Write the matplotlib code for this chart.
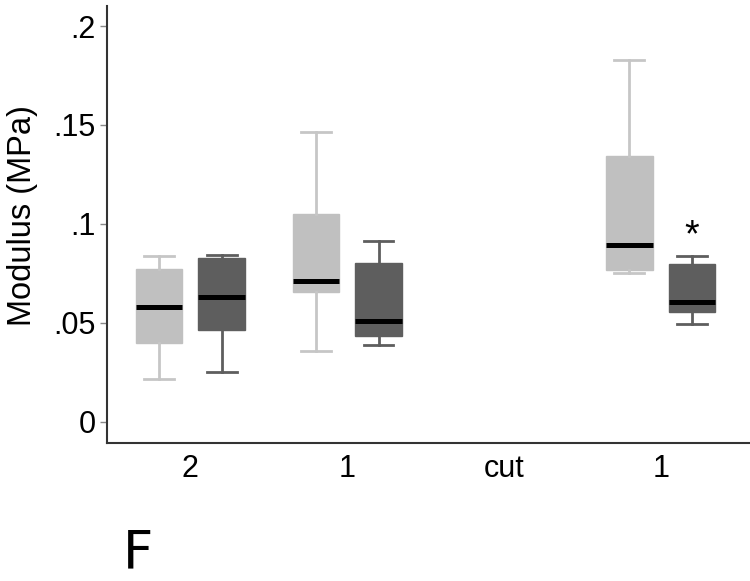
"""
Modulus box plot, two conditions per group
"""
import matplotlib.pyplot as plt

plt.rcParams['font.family'] = ['Liberation Sans', 'DejaVu Sans']

# 组位置和标签
positions = [1, 2, 4]
tick_pos = [1, 2, 3, 4]
tick_labels = ["2", "1", "cut", "1"]

# light series: whislo, q1, med, q3, whishi
light_lo = [0.0216, 0.0356, 0.0753]
light_q1 = [0.0396, 0.0657, 0.0766]
light_med = [0.058, 0.0712, 0.0894]
light_q3 = [0.077, 0.1052, 0.1344]
light_hi = [0.084, 0.1464, 0.183]

# dark series
dark_lo = [0.0253, 0.0386, 0.0495]
dark_q1 = [0.0463, 0.0434, 0.0556]
dark_med = [0.063, 0.0509, 0.0606]
dark_q3 = [0.083, 0.080, 0.0795]
dark_hi = [0.0845, 0.0913, 0.0838]

yticks = [0, 0.05, 0.1, 0.15, 0.2]
ytick_labels = ["0", ".05", ".1", ".15", ".2"]


def make_stats(lo, q1, med, q3, hi):
    return [dict(whislo=a, q1=b, med=c, q3=d, whishi=e, fliers=[])
            for a, b, c, d, e in zip(lo, q1, med, q3, hi)]


fig = plt.figure(figsize=(7.5, 5.81), dpi=100)
ax = fig.add_axes([0.1427, 0.238, 0.8573, 0.7516])

off = 0.2
w = 0.297
for stats, color, wcolor, shift in [
        (make_stats(light_lo, light_q1, light_med, light_q3, light_hi), "#c0c0c0", "#c6c6c6", -off),
        (make_stats(dark_lo, dark_q1, dark_med, dark_q3, dark_hi), "#5e5e5e", "#5e5e5e", off)]:
    ax.bxp(stats, positions=[p + shift for p in positions], widths=w,
           capwidths=0.19, patch_artist=True, showfliers=False,
           boxprops=dict(facecolor=color, edgecolor=color, linewidth=1),
           whiskerprops=dict(color=wcolor, linewidth=2),
           capprops=dict(color=wcolor, linewidth=2),
           medianprops=dict(color="black", linewidth=3.6, solid_capstyle="butt"))

# 显著性标记
ax.annotate("*", xy=(4 + off, dark_hi[2]), xytext=(0, 1), textcoords="offset points",
            ha="center", va="bottom", fontsize=27)

ax.set_xlim(0.468, 4.57)
ax.set_ylim(-0.0106, 0.2101)
ax.set_xticks(tick_pos)
ax.set_xticklabels(tick_labels, fontsize=22)
ax.set_yticks(yticks)
ax.set_yticklabels(ytick_labels, fontsize=22)
ax.tick_params(axis="x", length=0, pad=8)
ax.tick_params(axis="y", length=5, width=1, color="#888888", pad=3)
ax.set_ylabel("Modulus (MPa)", fontsize=23.5)
ax.yaxis.set_label_coords(-0.108, 0.52)

for s in ["top", "right"]:
    ax.spines[s].set_visible(False)
for s in ["left", "bottom"]:
    ax.spines[s].set_linewidth(1.5)
    ax.spines[s].set_color("#333333")

fig.text(0.164, 0.022, "F", fontsize=38, family="DejaVu Sans", ha="left", va="baseline")

fig.savefig("out.png", dpi=100)
